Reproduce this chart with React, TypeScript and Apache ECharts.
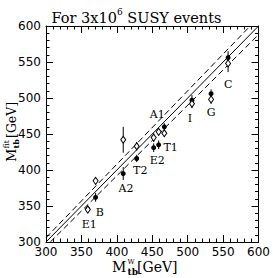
import React, { useEffect, useRef } from "react";
import * as echarts from "echarts";

const models = ["E1", "B", "A2", "T2", "E2", "T1", "A1", "I", "G", "C"];
const trueMass = [359, 370, 409, 428, 452, 459, 467, 506, 533, 557];
const fitFilled = [346, 362, 395, 416, 431, 435, 460, 497, 506, 556];
const errFilled = [5, 6, 9, 5, 6, 6, 5, 7, 6, 9];
const fitOpen = [345, 385, 442, 433, 445, 453, 451, 492, 498, 548];
const errOpen = [4, 5, 18, 6, 6, 5, 5, 6, 6, 12];
const labelX = [361, 376, 413, 433, 457, 476, 457, 503, 533, 557];
const labelY = [325, 341, 374, 399, 413, 431, 477, 471, 480, 519];
const refSlopes = [0.98, 1, 1.02];
const axisMin = 300;
const axisMax = 600;
const axisStep = 50;

function refLine(k: number) {
  const x0 = Math.max(axisMin, axisMin / k);
  const x1 = Math.min(axisMax, axisMax / k);
  return [
    [x0, k * x0],
    [x1, k * x1],
  ];
}

export default function App() {
  const ref = useRef<HTMLDivElement>(null);
  useEffect(() => {
    const chart = echarts.init(ref.current!, undefined, { renderer: "svg" });
    const tickFont = { fontFamily: "DejaVu Sans", fontSize: 12, lineHeight: 12, color: "#000" };
    const mkAxis = (pos: string, show: boolean, margin: number) => ({
      type: "value",
      position: pos,
      min: axisMin,
      max: axisMax,
      interval: axisStep,
      axisLine: { show: true, onZero: false, lineStyle: { color: "#000", width: 1 } },
      axisTick: { show: true, inside: true, length: 7, lineStyle: { color: "#000" } },
      minorTick: { show: true, splitNumber: 5, length: 3.5, lineStyle: { color: "#000" } },
      splitLine: { show: false },
      axisLabel: { show, margin, ...tickFont },
    });
    const errSeries = (fit: number[], err: number[]) => ({
      type: "custom",
      encode: { x: 0, y: [1, 2] },
      data: models.map((_, i) => [trueMass[i], fit[i] - err[i], fit[i] + err[i]]),
      z: 3,
      renderItem: (params: any, api: any) => {
        const p1 = api.coord([api.value(0), api.value(1)]);
        const p2 = api.coord([api.value(0), api.value(2)]);
        return {
          type: "line",
          shape: { x1: p1[0], y1: p1[1], x2: p2[0], y2: p2[1] },
          style: { stroke: "#000", lineWidth: 1 },
        };
      },
    });
    const serif = "DejaVu Serif";
    chart.setOption({
      animation: false,
      backgroundColor: "#fff",
      title: {
        left: "center",
        top: 2,
        text: "{a|For 3x10}{s|6}{a| SUSY events}",
        textStyle: {
          fontWeight: "normal",
          rich: {
            a: { fontFamily: serif, fontSize: 14.5, fontWeight: "normal", color: "#000", lineHeight: 18, verticalAlign: "bottom" },
            s: { fontFamily: serif, fontSize: 9, fontWeight: "normal", color: "#000", lineHeight: 18, verticalAlign: "top" },
          },
        },
      },
      grid: { left: 46, top: 26, width: 216, height: 216 },
      xAxis: [mkAxis("bottom", true, 4), mkAxis("top", false, 3)],
      yAxis: [mkAxis("left", true, 5), mkAxis("right", false, 3)],
      series: [
        ...refSlopes.map((k) => ({
          type: "line",
          data: refLine(k),
          symbol: "none",
          silent: true,
          lineStyle: { color: "#000", width: 1, type: k === 1 ? "solid" : [6, 3.5] },
          z: 2,
        })),
        errSeries(fitFilled, errFilled),
        errSeries(fitOpen, errOpen),
        {
          type: "scatter",
          data: models.map((m, i) => [trueMass[i], fitFilled[i]]),
          symbol: "circle",
          symbolSize: 5,
          itemStyle: { color: "#000", opacity: 1 },
          z: 4,
        },
        {
          type: "scatter",
          data: models.map((m, i) => [trueMass[i], fitOpen[i]]),
          symbol: "diamond",
          symbolSize: [5, 7],
          itemStyle: { color: "#fff", borderColor: "#000", borderWidth: 1, opacity: 1 },
          z: 5,
        },
        {
          type: "scatter",
          data: models.map((m, i) => ({ name: m, value: [labelX[i], labelY[i]] })),
          symbolSize: 1,
          itemStyle: { color: "#fff", opacity: 0 },
          label: {
            show: true,
            position: "inside",
            formatter: (p: any) => p.name,
            fontFamily: serif,
            fontSize: 11,
            color: "#000",
            opacity: 1,
            textBorderWidth: 0,
          },
          z: 6,
        },
      ],
      graphic: [
        {
          type: "group",
          x: 112,
          y: 267,
          children: [
            { type: "text", x: 0, y: 0, style: { text: "M", fontFamily: serif, fontSize: 14, fill: "#000", verticalAlign: "middle" } },
            { type: "text", x: 15.5, y: -5, style: { text: "W", fontFamily: serif, fontSize: 7, fill: "#000", verticalAlign: "middle" } },
            { type: "text", x: 15.5, y: 5, style: { text: "tb", fontFamily: serif, fontSize: 9, fill: "#000", fontWeight: "bold", verticalAlign: "middle" } },
            { type: "text", x: 25, y: 0, style: { text: "[GeV]", fontFamily: serif, fontSize: 14, fill: "#000", verticalAlign: "middle" } },
          ],
        },
        {
          type: "group",
          x: 11.5,
          y: 162,
          rotation: Math.PI / 2,
          children: [
            { type: "text", x: 0, y: 0, style: { text: "M", fontFamily: serif, fontSize: 13, fill: "#000", verticalAlign: "middle" } },
            { type: "text", x: 13.5, y: -5.5, style: { text: "fit", fontFamily: serif, fontSize: 8, fill: "#000", verticalAlign: "middle" } },
            { type: "text", x: 13.5, y: 4.5, style: { text: "tb", fontFamily: serif, fontSize: 8, fill: "#000", fontWeight: "bold", verticalAlign: "middle" } },
            { type: "text", x: 24, y: 0, style: { text: "[GeV]", fontFamily: serif, fontSize: 12.5, fill: "#000", verticalAlign: "middle" } },
          ],
        },
      ],
    });
    return () => chart.dispose();
  }, []);
  return <div ref={ref} style={{ position: "fixed", left: 0, top: 0, width: 273, height: 278 }} />;
}
